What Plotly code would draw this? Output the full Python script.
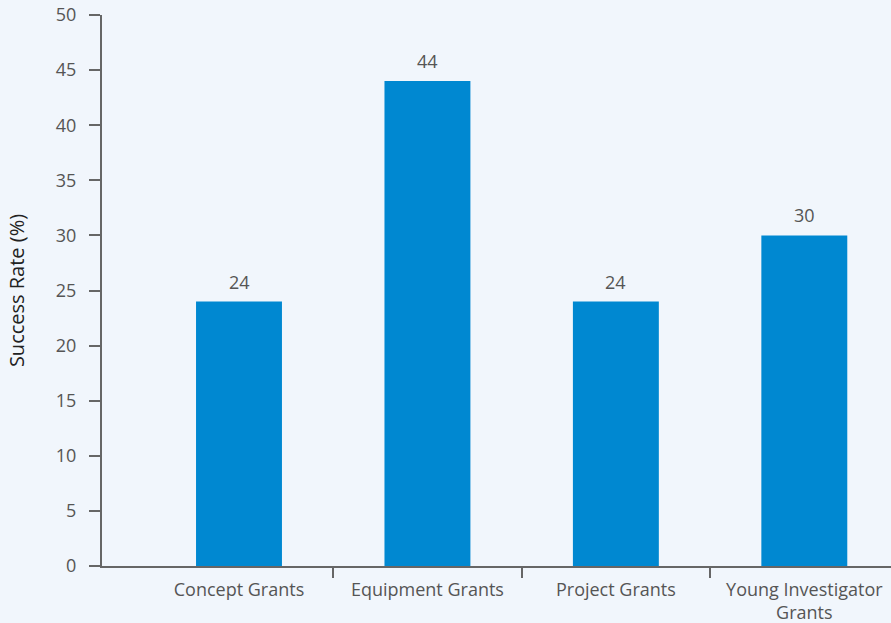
import plotly.graph_objects as go

categories = ["Concept Grants", "Equipment Grants", "Project Grants", "Young Investigator<br>Grants"]
success_rate = [24, 44, 24, 30]
y_ticks = [0, 5, 10, 15, 20, 25, 30, 35, 40, 45, 50]

xpos = list(range(len(categories)))
boundaries = [i + 0.5 for i in xpos[:-1]]

axis_color = "#666666"
text_color = "#555555"
font_family = "Open Sans, Noto Sans, sans-serif"

fig = go.Figure()
fig.add_trace(go.Bar(
    x=xpos, y=success_rate, width=0.456,
    marker=dict(color="#0088d1", line=dict(width=0)),
    hoverinfo="skip",
))

for x, v in zip(xpos, success_rate):
    fig.add_annotation(x=x, y=v, text=str(v), showarrow=False,
                       yanchor="bottom", yshift=6,
                       font=dict(size=18, color=text_color, family=font_family))

fig.update_layout(
    width=891, height=623,
    margin=dict(l=102, r=0, t=15, b=57),
    paper_bgcolor="#f1f6fc", plot_bgcolor="#f1f6fc",
    showlegend=False,
    font=dict(family=font_family, color=text_color, size=18),
)
fig.update_xaxes(
    range=[-0.727, 3.46],
    tickmode="array", tickvals=xpos, ticktext=categories,
    ticks="", showgrid=False, zeroline=False,
    showline=True, linecolor=axis_color, linewidth=2,
    tickfont=dict(size=18, color=text_color),
    ticklabelstandoff=6,
    minor=dict(tickmode="array", tickvals=boundaries, ticks="outside",
               ticklen=10, tickwidth=2, tickcolor=axis_color, showgrid=False),
)
fig.update_yaxes(
    range=[0, 50],
    tickmode="array", tickvals=y_ticks,
    ticks="outside", ticklen=11, tickwidth=2, tickcolor=axis_color,
    showline=True, linecolor=axis_color, linewidth=2,
    showgrid=False, zeroline=False,
    ticklabelstandoff=9,
    tickfont=dict(size=18, color=text_color),
    title=dict(text="Success Rate (%)", font=dict(size=20, color="#222222"), standoff=26),
)

fig.write_html("out.html")
